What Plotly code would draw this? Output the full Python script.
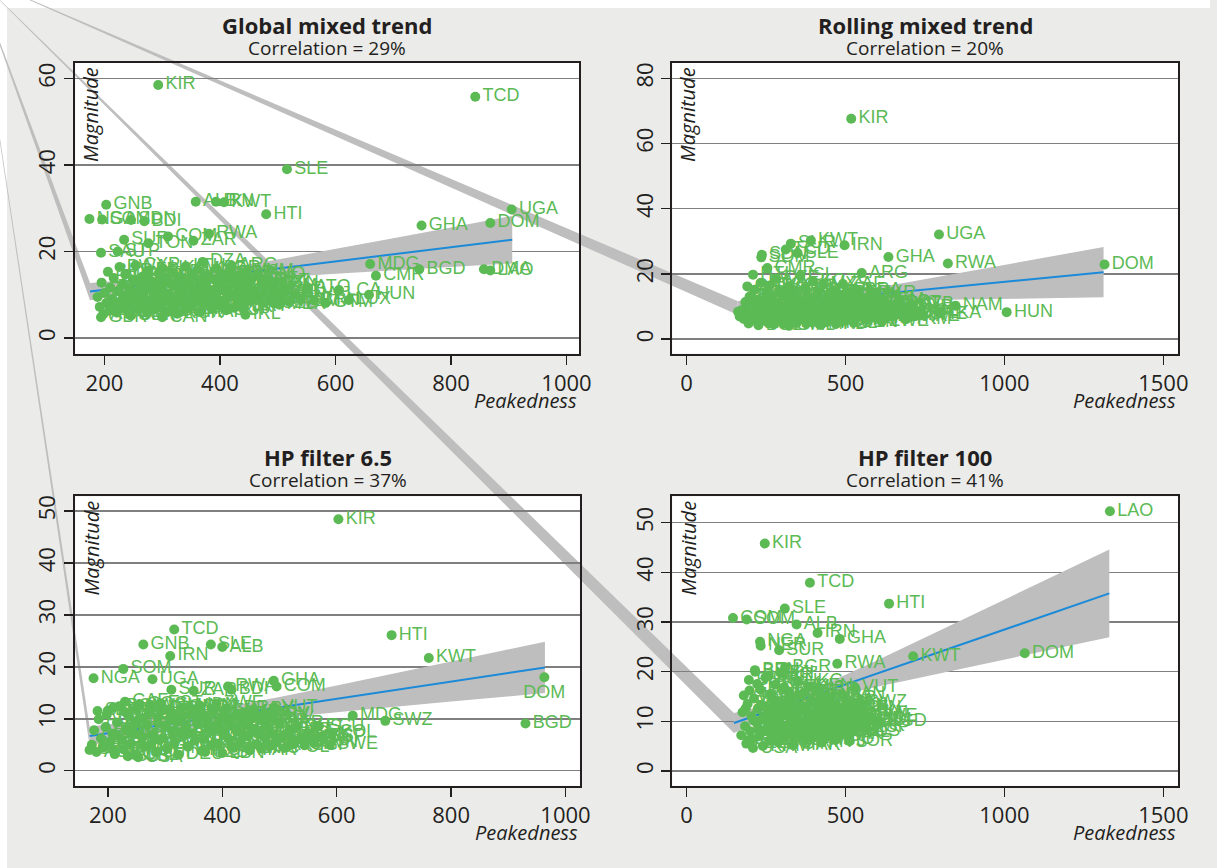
import plotly.graph_objects as go

W, H = 1217, 868

# ---------------- data ----------------
panel_titles = ["Global mixed trend", "Rolling mixed trend", "HP filter 6.5", "HP filter 100"]
correlations = [29, 20, 37, 41]
x_label = "Peakedness"
y_label = "Magnitude"

cluster_codes = ["AFG","ARM","AUS","AUT","AZE","BHS","BHR","BRB","BLR","BEL","BLZ","BEN","BOL","BIH","BWA","BGR","BFA","KHM","CPV","CHL",
                 "CHN","COG","CRI","CIV","HRV","CYP","CZE","DNK","DJI","EGY","EST","ETH","FJI","FIN","FRA","GAB","GMB","GEO","DEU","GRC",
                 "GRD","GIN","GUY","HND","HKG","ISL","IND","IDN","IRQ","ITA","JAM","JPN","KAZ","KEN","KOR","KGZ","LVA","LBN","LSO","LBR",
                 "LTU","MKD","MWI","MYS","MLI","MLT","MRT","MDA","MNG","MAR","MOZ","NPL","NLD","NZL","NIC","NER","NOR","OMN","PAK","PAN",
                 "PNG","PER","PHL","POL","PRT","ROM","RUS","SEN","SGP","SVK","SVN","ESP","SWE","TJK","TZA","THA","TGO","TTO","TUN","UKR",
                 "URY","VEN","VNM","YEM","ZMB","ZWE","AGO","ERI","GNQ","LBY","MDV","MMR","QAT","SYR","TKM","UZB","ARE","SDN","SLB","WSM",
                 "KNA","VCT","ATG","BRN","CUB","PRK"]

# Panel 1: Global mixed trend
tl_codes = ["KIR","TCD","SLE","GNB","ALB","IRN","KWT","HTI","UGA","DOM","GHA","NGA","SOM","SDN","BDI","SUR","TON","COM","ZAR","RWA",
            "SAU","STP","MDG","BGD","DMA","LAO","CMR","LCA","HUN","GTM","LUX","MEX","IRL","BTN","ARG","DZA","GBR","CAN","USA"]
tl_x = [293,842,516,203,358,393,407,480,905,868,749,174,196,246,269,234,276,310,354,381,
        194,223,660,745,857,868,670,606,658,583,623,503,444,496,420,370,194,300,245]
tl_y = [58.5,55.8,39.0,30.8,31.5,31.5,31.4,28.6,29.7,26.6,26.0,27.5,27.4,27.3,27.0,22.7,21.9,23.5,22.5,24.1,
        19.7,20.0,17.1,15.9,15.9,15.6,14.4,11.1,10.0,8.1,8.8,7.7,5.4,12.7,16.7,17.6,4.8,4.8,5.3]
tl_cl_x = [188,192,195,198,200,203,206,208,210,213,216,218,221,224,226,229,231,234,236,239,
           241,244,246,249,251,254,256,259,261,264,266,269,271,274,276,279,281,284,286,289,
           291,294,296,299,301,304,306,309,311,314,316,319,321,324,326,329,331,334,336,339,
           341,344,346,349,351,354,356,359,361,364,366,369,371,374,376,379,381,384,386,389,
           391,394,396,399,401,404,406,409,411,414,416,419,421,424,426,429,431,434,436,439,
           441,444,446,449,451,454,456,459,464,468,472,476,481,486,490,494,499,505,512,520,
           528,540,552,563]
tl_cl_y = [9.5,7.2,12.8,5.5,10.4,8.1,15.3,6.3,11.7,9.0,13.9,7.4,5.9,10.8,16.4,8.6,12.3,6.8,14.7,9.8,
           7.9,11.2,5.2,13.4,8.9,16.8,10.1,6.6,12.9,9.3,14.2,7.7,11.0,5.8,15.6,8.4,13.1,10.6,6.9,12.0,
           9.6,14.9,7.3,11.5,16.1,8.8,13.7,6.2,10.3,12.6,9.1,15.2,7.6,11.9,5.6,14.0,8.2,10.9,13.0,6.5,
           16.6,9.4,12.2,7.1,14.5,10.0,8.5,11.4,15.8,6.0,13.3,9.9,7.8,12.7,10.5,14.3,8.0,11.1,6.7,13.6,
           9.2,16.0,10.7,7.5,12.4,14.8,8.7,11.3,6.4,13.8,9.7,15.0,10.2,7.0,12.5,14.1,8.3,11.6,9.5,13.2,
           7.2,10.8,15.4,12.1,8.6,13.5,9.9,11.0,14.6,8.9,12.3,10.4,13.0,9.4,11.8,8.0,10.6,9.2,11.3,8.4,
           10.1,9.0,11.7,8.7]
tl_fit_x = [175,250,330,400,500,600,700,800,906]
tl_fit_y = [10.75,11.98,13.29,14.44,16.08,17.72,19.36,21.00,22.74]
tl_fit_lo = [8.76,10.42,11.91,12.92,13.99,14.87,15.67,16.44,17.24]
tl_fit_hi = [12.74,13.54,14.67,15.96,18.17,20.57,23.05,25.56,28.24]

# Panel 2: Rolling mixed trend
tr_codes = ["KIR","UGA","DOM","RWA","GHA","IRN","KWT","ARG","ZAF","BRA","HUN","NAM","LKA","TUR","COL","CHE","SDN","SOM","TCD","SLE",
            "SUR","CMR","HTI","GNB","NGA","ALB","BDI"]
tr_x = [518,794,1315,822,635,497,391,551,492,537,1007,846,797,700,718,740,237,235,312,349,
        328,254,209,191,203,167,162]
tr_y = [67.6,32.1,22.9,23.2,25.2,28.8,30.3,20.3,16.9,15.0,8.3,10.3,8.0,9.6,8.5,7.6,25.9,25.1,27.5,26.4,
        29.3,21.8,19.8,16.2,13.3,7.0,8.4]
tr_cl_x = [175,180,185,190,195,198,202,206,210,214,218,222,226,230,234,238,242,246,250,254,
           258,262,266,270,274,278,282,286,290,294,298,302,306,310,314,318,322,326,330,334,
           338,342,346,350,354,358,362,366,370,374,378,382,386,390,394,398,402,406,410,414,
           418,422,426,430,434,438,442,446,450,454,458,462,466,470,474,478,482,486,490,494,
           498,502,506,510,514,518,522,526,530,534,538,542,546,550,555,560,565,570,575,580,
           585,590,596,602,608,614,620,626,632,640,648,656,665,675,690,705,720]
tr_cl_y = [9.0,6.2,11.4,7.5,4.8,13.0,8.7,5.9,10.6,15.2,7.0,12.1,4.3,9.4,17.3,6.5,11.8,8.1,14.0,5.2,
           10.2,16.5,7.7,12.9,4.6,9.8,18.6,6.0,11.0,14.6,8.4,5.5,13.4,10.0,7.2,16.0,4.1,11.6,8.9,6.7,
           14.9,10.5,5.0,12.5,8.0,19.5,6.3,11.2,9.1,15.6,4.9,13.0,7.4,10.8,5.8,17.8,9.5,12.2,6.9,14.3,
           8.3,4.4,11.5,16.7,7.8,10.1,5.3,13.7,9.0,6.1,12.0,15.0,8.6,4.7,10.9,7.1,13.2,9.7,5.6,11.9,
           8.1,14.1,6.4,10.4,12.8,7.5,9.2,5.1,11.3,8.8,13.5,6.8,10.0,7.9,12.4,9.3,5.9,11.0,8.2,13.9,
           6.6,10.7,7.6,12.0,9.0,5.4,11.4,8.5,10.2,6.9,9.8,7.3,11.1,8.0,6.2,10.6,7.1]
tr_fit_x = [160,250,380,500,700,900,1100,1312]
tr_fit_y = [9.62,10.48,11.71,12.85,14.75,16.65,18.55,20.56]
tr_fit_lo = [7.52,8.97,10.63,11.39,11.92,12.26,12.56,12.86]
tr_fit_hi = [11.72,11.99,12.79,14.31,17.58,21.04,24.54,28.26]

# Panel 3: HP filter 6.5
bl_codes = ["KIR","TCD","GNB","SLE","ALB","IRN","HTI","KWT","DOM","BGD","MDG","SWZ","ECU","COL","MUS","JOR","ISR","NGA","SOM","UGA",
            "SUR","ZAR","RWA","BDI","GHA","COM","VUT","SLV","PRY","SYC","SAU","CAF","USA","GBR"]
bl_x = [603,316,262,380,400,309,696,761,963,930,628,685,569,592,547,523,446,175,227,278,
        311,350,410,416,490,495,491,490,476,182,210,230,253,168]
bl_y = [48.4,27.2,24.3,24.3,23.8,22.1,26.1,21.7,18.0,9.1,10.6,9.6,8.6,7.3,6.4,5.1,4.3,17.8,19.6,17.6,
        15.6,15.4,16.2,15.6,17.3,16.2,12.2,10.1,10.8,11.5,12.2,13.3,2.6,4.0]
bl_cl_x = [172,176,180,184,188,192,196,200,204,208,212,216,220,224,228,232,236,240,244,248,
           252,256,260,264,268,272,276,280,284,288,292,296,300,304,308,312,316,320,324,328,
           332,336,340,344,348,352,356,360,364,368,372,376,380,384,388,392,396,400,404,408,
           412,416,420,424,428,432,436,440,444,448,452,456,460,464,468,472,476,480,485,490,
           495,500,506,512,518,524,530,537,544,552,560,575,588,
           198,214,230,246,262,278,294,310,326,342,358,374,390,406,422,438,454,470,210,250,
           290,330,370,410,450,235,275,315,355,395]
bl_cl_y = [5.0,7.8,3.6,9.9,6.2,4.5,8.4,11.6,5.6,7.1,3.2,9.3,12.4,6.0,4.1,8.0,10.5,5.3,7.4,3.0,
           9.6,12.8,6.5,4.7,8.8,11.0,5.0,7.0,3.5,10.2,13.0,6.3,8.5,4.2,11.8,7.6,5.4,9.4,3.1,12.1,
           6.8,8.2,4.6,10.8,7.2,5.8,9.0,12.6,3.8,6.1,10.0,7.9,4.9,11.4,8.6,5.2,9.8,3.4,7.0,12.0,
           6.0,8.9,4.4,10.6,7.5,5.6,9.2,11.2,6.6,3.9,8.1,10.3,5.1,7.3,4.3,9.5,6.2,8.3,4.8,7.0,
           5.5,9.0,6.4,4.5,7.7,5.8,8.4,6.0,4.9,7.2,5.4,6.5,5.0,
           10.8,6.9,11.3,9.0,10.0,6.8,11.5,9.9,7.4,12.3,10.6,8.8,12.9,10.3,8.2,6.9,11.8,10.7,4.0,11.9,
           5.9,10.4,3.6,9.6,9.9,2.8,12.4,10.8,11.9,8.0]
bl_fit_x = [168,250,310,400,500,600,700,800,964]
bl_fit_y = [6.67,8.03,9.03,10.52,12.18,13.85,15.51,17.17,19.89]
bl_fit_lo = [4.87,6.49,7.55,8.90,10.16,11.28,12.33,13.33,14.94]
bl_fit_hi = [8.47,9.57,10.51,12.14,14.20,16.42,18.69,21.01,24.84]

# Panel 4: HP filter 100
br_codes = ["LAO","KIR","TCD","HTI","SLE","COM","SOM","ALB","IRN","GHA","NGA","NER","SUR","KWT","DOM","RWA","BGR","BEN","VUT","SWZ",
            "BDI","BGD","JOR","CHE","USA","MAR"]
br_x = [1332,246,388,637,309,146,189,346,412,482,231,233,291,713,1064,474,310,215,530,545,
        591,610,513,455,209,336]
br_y = [52.3,45.8,37.9,33.7,32.7,30.8,30.5,29.5,27.8,26.6,26.0,25.2,24.3,23.1,23.7,21.6,20.9,20.3,16.8,13.7,
        10.2,9.9,6.0,8.9,4.6,5.2]
br_cl_x = [172,176,180,184,188,192,196,200,204,208,212,216,220,224,228,232,236,240,244,248,
           252,256,260,264,268,272,276,280,284,288,292,296,300,304,308,312,316,320,324,328,
           332,336,340,344,348,352,356,360,364,368,372,376,380,384,388,392,396,400,404,408,
           412,416,420,424,428,432,436,440,444,448,452,456,460,464,468,472,476,480,485,490,
           495,500,506,512,518,524,530,536,542,550,558,566,575,
           186,198,210,222,234,246,258,270,282,294,306,318,330,342,354,366,378,390,402,414,
           426,438,450,462,474,194,226,262,298,334]
br_cl_y = [7.2,11.8,15.2,9.0,5.5,13.5,18.3,8.0,11.0,6.4,14.6,20.0,9.7,12.5,7.0,16.4,10.4,5.0,13.0,18.8,
           8.6,11.6,6.1,15.5,9.4,12.9,7.5,17.4,10.8,5.8,14.0,8.2,19.6,11.3,6.8,13.6,9.0,16.0,7.4,12.0,
           10.1,5.3,14.8,8.7,18.0,11.9,7.0,13.2,9.6,15.7,6.2,12.4,10.5,17.0,8.1,14.2,6.6,11.5,9.2,16.3,
           7.7,13.0,10.0,5.7,15.0,8.8,12.2,6.9,10.9,14.5,7.9,11.7,9.3,13.4,6.3,10.6,8.4,12.7,7.3,15.4,
           9.8,11.9,7.8,13.1,9.9,11.2,8.0,12.6,10.3,9.0,11.5,8.8,10.9,
           12.6,16.2,10.2,17.5,13.3,8.0,19.2,14.4,9.6,12.0,16.8,11.1,14.0,10.4,15.2,12.8,8.9,11.3,13.8,10.7,
           9.4,13.9,11.0,8.2,11.4,6.2,8.4,9.9,7.1,8.3]
br_fit_x = [149,250,330,450,600,800,1000,1200,1330]
br_fit_y = [9.66,11.89,13.66,16.31,19.63,24.05,28.47,32.89,35.76]
br_fit_lo = [7.66,10.49,12.44,14.70,16.98,19.75,22.47,25.16,26.91]
br_fit_hi = [11.66,13.29,14.88,17.92,22.28,28.35,34.47,40.62,44.61]

x_ticks_a = [200, 400, 600, 800, 1000]
x_ticks_b = [0, 500, 1000, 1500]
y_ticks = [[0, 20, 40, 60], [0, 20, 40, 60, 80], [0, 10, 20, 30, 40, 50], [0, 10, 20, 30, 40, 50]]

# ---------------- styling / layout ----------------
GREEN = "#5CBA55"
BLUE = "#1B8AD8"
BAND = "#BEBEBE"
INK = "#231F20"
GRID = "#7F7F7F"
BG = "#EBEBEA"
FONT = "Open Sans"
LFONT = "Liberation Sans"
EDGE = 7  # white strip along the top and left edges

panels = [
    dict(box=(76, 62, 585, 353), xr=(149.4, 1022), yr=(-3.6, 63.6), xt=x_ticks_a,
         codes=tl_codes, x=tl_x, y=tl_y, cx=tl_cl_x, cy=tl_cl_y,
         fx=tl_fit_x, fy=tl_fit_y, lo=tl_fit_lo, hi=tl_fit_hi, below=[]),
    dict(box=(679, 62, 1190, 353), xr=(-45, 1547), yr=(-4.4, 84.7), xt=x_ticks_b,
         codes=tr_codes, x=tr_x, y=tr_y, cx=tr_cl_x, cy=tr_cl_y,
         fx=tr_fit_x, fy=tr_fit_y, lo=tr_fit_lo, hi=tr_fit_hi, below=[]),
    dict(box=(76, 496, 585.6, 785.7), xr=(143, 1025), yr=(-2.9, 52.8), xt=x_ticks_a,
         codes=bl_codes, x=bl_x, y=bl_y, cx=bl_cl_x, cy=bl_cl_y,
         fx=bl_fit_x, fy=bl_fit_y, lo=bl_fit_lo, hi=bl_fit_hi, below=["DOM"]),
    dict(box=(679, 496, 1190, 785.7), xr=(-45, 1547), yr=(-3.0, 55.3), xt=x_ticks_b,
         codes=br_codes, x=br_x, y=br_y, cx=br_cl_x, cy=br_cl_y,
         fx=br_fit_x, fy=br_fit_y, lo=br_fit_lo, hi=br_fit_hi, below=[]),
]

APEX = (-25, -25)  # pixel position where the stray band polygons converge


def pxx(px):
    return px / W


def pxy(py):
    return 1 - py / H


def data_to_px(p, x, y):
    l, t, r, b = p["box"]
    x0, x1 = p["xr"]
    y0, y1 = p["yr"]
    return l + (x - x0) / (x1 - x0) * (r - l), b - (y - y0) / (y1 - y0) * (b - t)


fig = go.Figure()
shapes = [
    dict(type="rect", xref="paper", yref="paper", x0=pxx(-5), x1=pxx(W + 5), y0=pxy(EDGE), y1=pxy(-5),
         fillcolor="white", line=dict(width=0), layer="below"),
    dict(type="rect", xref="paper", yref="paper", x0=pxx(-5), x1=pxx(EDGE), y0=pxy(H + 5), y1=pxy(-5),
         fillcolor="white", line=dict(width=0), layer="below"),
]
annotations = []
layout_axes = {}

for i, p in enumerate(panels):
    sfx = "" if i == 0 else str(i + 1)
    xa, ya = "x" + sfx, "y" + sfx
    l, t, r, b = p["box"]

    # confidence band + fitted line
    fig.add_trace(go.Scatter(x=p["fx"] + p["fx"][::-1], y=p["hi"] + p["lo"][::-1], fill="toself",
                             fillcolor=BAND, line=dict(width=0), mode="lines", hoverinfo="skip",
                             xaxis=xa, yaxis=ya, showlegend=False))
    fig.add_trace(go.Scatter(x=p["fx"], y=p["fy"], mode="lines", line=dict(color=BLUE, width=2),
                             xaxis=xa, yaxis=ya, showlegend=False, hoverinfo="skip"))

    # stray wedge of the band polygon
    ex, ey_lo = data_to_px(p, p["fx"][0], p["lo"][0])
    _, ey_hi = data_to_px(p, p["fx"][0], p["hi"][0])
    path = "M {:.5f},{:.5f} L {:.5f},{:.5f} L {:.5f},{:.5f} Z".format(
        pxx(APEX[0]), pxy(APEX[1]), pxx(ex), pxy(ey_lo), pxx(ex), pxy(ey_hi))
    shapes.append(dict(type="path", path=path, xref="paper", yref="paper", fillcolor=BAND,
                       line=dict(width=0), layer="below"))

    # points
    cl_codes = cluster_codes[:len(p["cx"])]
    codes = cl_codes + p["codes"]
    xs = p["cx"][:len(cl_codes)] + p["x"]
    ys = p["cy"][:len(cl_codes)] + p["y"]
    pos = ["bottom center" if c in p["below"] and c in p["codes"] else "middle right" for c in codes]
    fig.add_trace(go.Scatter(x=xs, y=ys, mode="markers+text", text=codes, textposition=pos,
                             marker=dict(size=10, color=GREEN, line=dict(width=0)),
                             textfont=dict(family=LFONT, size=18, color=GREEN),
                             xaxis=xa, yaxis=ya, showlegend=False, cliponaxis=False,
                             hoverinfo="skip"))

    layout_axes["xaxis" + sfx] = dict(
        domain=[pxx(l), pxx(r)], range=list(p["xr"]), anchor=ya, tickvals=p["xt"],
        ticks="outside", ticklen=9, tickwidth=1.5, tickcolor=INK, showline=True, mirror=True,
        linecolor=INK, linewidth=2, showgrid=False, zeroline=False, fixedrange=True,
        tickfont=dict(family=FONT, size=22, color=INK), ticklabelstandoff=0)
    layout_axes["yaxis" + sfx] = dict(
        domain=[pxy(b), pxy(t)], range=list(p["yr"]), anchor=xa, tickvals=y_ticks[i],
        tickangle=-90, ticks="outside", ticklen=9, tickwidth=1.5, tickcolor=INK, showline=True,
        mirror=True, linecolor=INK, linewidth=2, showgrid=True, gridcolor=GRID, gridwidth=1.5,
        zeroline=False, fixedrange=True, tickfont=dict(family=FONT, size=22, color=INK), ticklabelstandoff=0)

    cx = (l + r) / 2
    ty = 24 if i < 2 else 457
    annotations.append(dict(x=pxx(cx), y=pxy(ty), xref="paper", yref="paper", text="<b>%s</b>" % panel_titles[i],
                            showarrow=False, xanchor="center", yanchor="middle",
                            font=dict(family=FONT, size=22, color=INK)))
    annotations.append(dict(x=pxx(cx), y=pxy(ty + 23), xref="paper", yref="paper",
                            text="Correlation = %d%%" % correlations[i],
                            showarrow=False, xanchor="center", yanchor="middle",
                            font=dict(family=FONT, size=19, color=INK)))
    annotations.append(dict(x=pxx(r), y=pxy(b + 47), xref="paper", yref="paper",
                            text="<i>%s</i>" % x_label, showarrow=False, xanchor="right", yanchor="middle",
                            font=dict(family=FONT, size=20, color=INK)))
    annotations.append(dict(x=pxx(l + 16), y=pxy(t + 52), xref="paper", yref="paper",
                            text="<i>%s</i>" % y_label, showarrow=False, textangle=-90,
                            xanchor="center", yanchor="middle",
                            font=dict(family=FONT, size=20, color=INK)))

fig.update_layout(
    width=W, height=H, autosize=False,
    margin=dict(l=0, r=0, t=0, b=0, pad=0),
    paper_bgcolor=BG, plot_bgcolor="white", hovermode=False,
    shapes=shapes, annotations=annotations, showlegend=False,
    **layout_axes,
)

# place the figure at the page origin (no default body margin), no mode bar
fig.write_html("out.html", config={"displayModeBar": False, "staticPlot": True},
               post_script="document.body.style.margin='0px';")
